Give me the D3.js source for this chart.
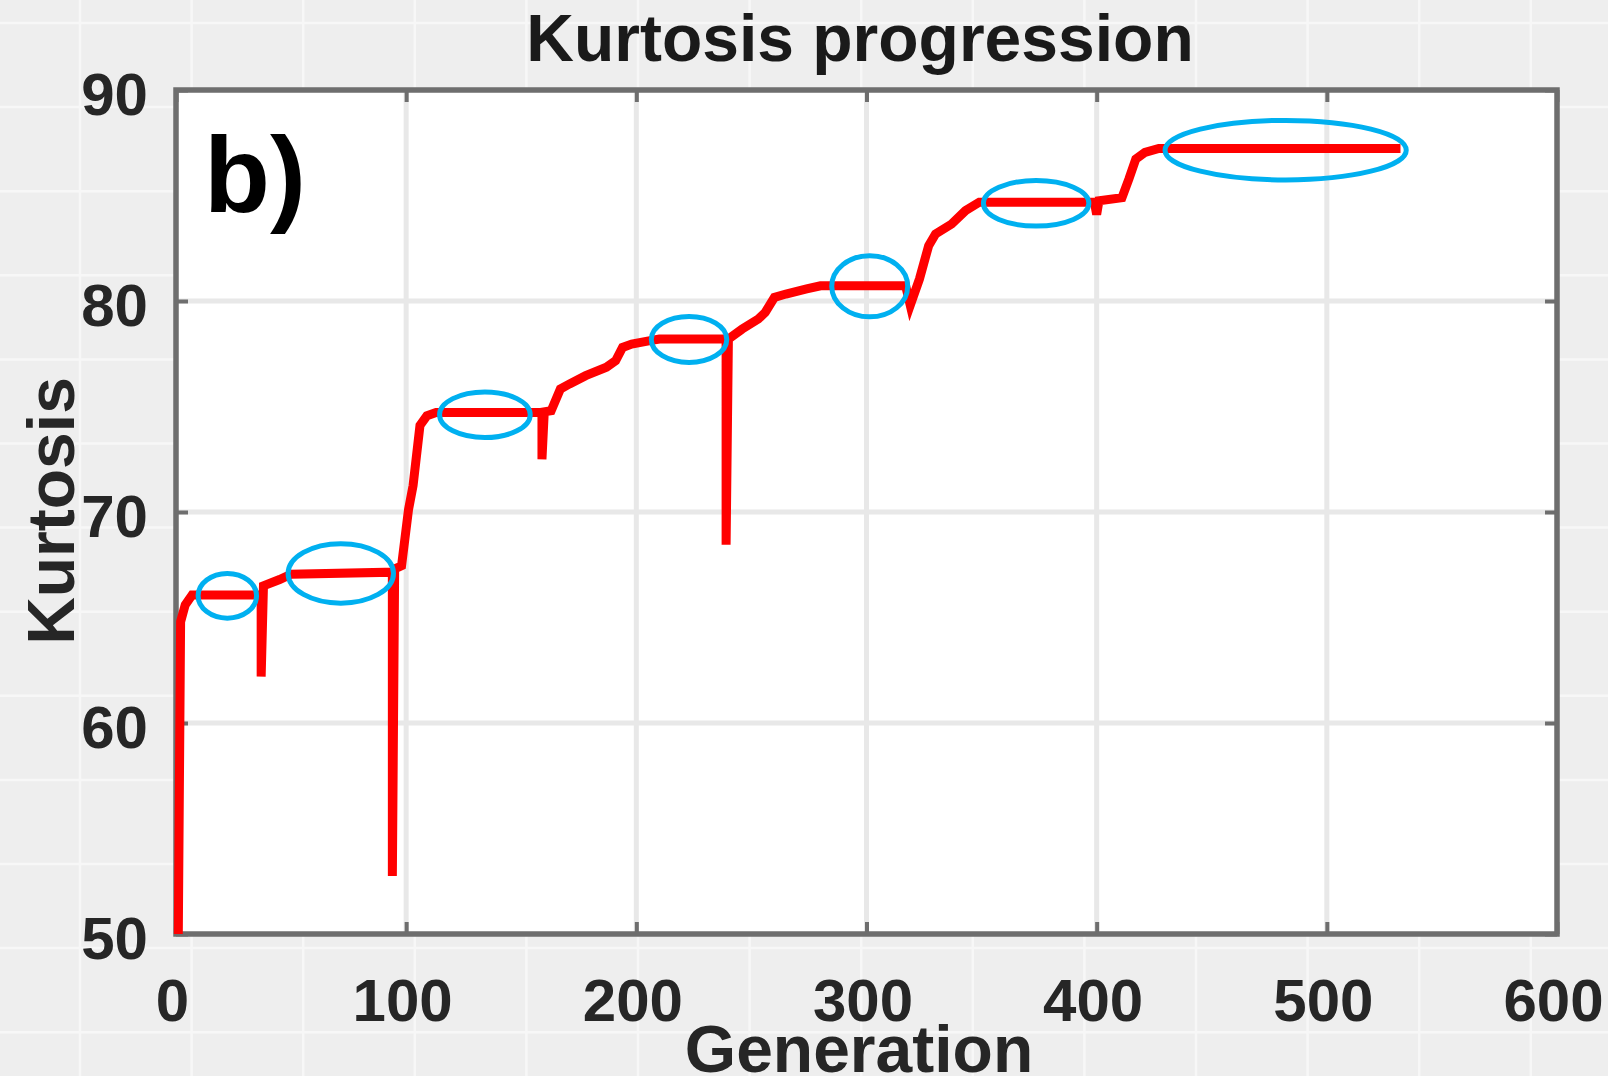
<!DOCTYPE html>
<html>
<head>
<meta charset="utf-8">
<script src="https://cdn.jsdelivr.net/npm/d3@7"></script>
<style>
  html, body { margin: 0; padding: 0; background: #efefef; overflow: hidden; }
  svg { display: block; }
  text { font-family: "Liberation Sans", Arial, Helvetica, sans-serif; }
</style>
</head>
<body>
<svg id="chart"></svg>
<script>
// Best-individual kurtosis per generation (breakpoints of the progression curve)
const generation = [1, 2, 4, 7, 37, 37, 38, 45, 50, 94, 94, 95, 98, 101, 103, 106, 109, 113,
  159, 159, 160, 163, 167, 171, 178, 187, 191, 194, 198, 206, 210, 239, 239, 240,
  246, 253, 256, 260, 265, 274, 280, 317, 319, 323, 327, 330, 337, 343, 349,
  399, 400, 401, 411, 414, 417, 421, 427, 532];
const kurtosis = [50.0, 64.8, 65.6, 66.07, 66.07, 62.2, 66.5, 66.8, 67.05, 67.15, 52.75, 67.3, 67.45, 70.1, 71.25, 74.1, 74.56, 74.72,
  74.72, 72.5, 74.75, 74.8, 75.83, 76.07, 76.46, 76.86, 77.17, 77.8, 77.96, 78.12, 78.2, 78.2, 68.45, 78.2,
  78.67, 79.15, 79.46, 80.17, 80.33, 80.57, 80.72, 80.72, 79.8, 81.04, 82.62, 83.18, 83.65, 84.28, 84.68,
  84.68, 84.1, 84.75, 84.9, 85.78, 86.73, 87.04, 87.23, 87.23];

// Plateaus marked with ellipses: centre (generation, kurtosis) and half-extents
const plateauGen = [22.3, 71.6, 134.2, 222.9, 301.4, 373.7, 482.1];
const plateauKurt = [66.03, 67.09, 74.61, 78.18, 80.70, 84.63, 87.15];
const plateauGenHalf = [12.7, 22.9, 19.7, 16.4, 16.5, 22.9, 52.4];
const plateauKurtHalf = [1.06, 1.41, 1.08, 1.09, 1.45, 1.08, 1.41];

const xTicks = [0, 100, 200, 300, 400, 500, 600];
const yTicks = [50, 60, 70, 80, 90];

const W = 1608, H = 1076;
const plot = { left: 176, right: 1557, top: 90, bottom: 934 };

const svg = d3.select("#chart").attr("width", W).attr("height", H);

// figure background with faint cell pattern
svg.append("rect").attr("width", W).attr("height", H).attr("fill", "#eeeeee");
const bgLines = svg.append("g").attr("stroke", "#f7f7f7").attr("stroke-width", 2.5);
d3.range(23, H, 84.1).forEach(yy =>
  bgLines.append("line").attr("x1", 0).attr("x2", W).attr("y1", yy).attr("y2", yy));
d3.range(80, W, 111.6).forEach(xx =>
  bgLines.append("line").attr("x1", xx).attr("x2", xx).attr("y1", 0).attr("y2", H));

const x = d3.scaleLinear().domain([0, 600]).range([plot.left, plot.right]);
const y = d3.scaleLinear().domain([50, 90]).range([plot.bottom, plot.top]);

// axes area
svg.append("rect")
  .attr("x", plot.left).attr("y", plot.top)
  .attr("width", plot.right - plot.left).attr("height", plot.bottom - plot.top)
  .attr("fill", "#ffffff");

// grid
const grid = svg.append("g").attr("stroke", "#e8e8e8").attr("stroke-width", 5);
xTicks.filter(t => t > 0 && t < 600).forEach(t =>
  grid.append("line").attr("x1", x(t)).attr("x2", x(t)).attr("y1", y(90)).attr("y2", y(50)));
yTicks.filter(t => t > 50 && t < 90).forEach(t =>
  grid.append("line").attr("x1", x(0)).attr("x2", x(600)).attr("y1", y(t)).attr("y2", y(t)));

// axes with inward ticks
const axisColor = "#6e6e6e";
function styleAxis(g) {
  g.select(".domain").remove();
  g.selectAll(".tick line").attr("stroke", axisColor).attr("stroke-width", 4);
}
const xAxisBottom = svg.append("g").attr("transform", `translate(0,${plot.bottom})`)
  .call(d3.axisBottom(x).tickValues(xTicks).tickFormat(d3.format("d")).tickSizeInner(-12).tickSizeOuter(0));
const xAxisTop = svg.append("g").attr("transform", `translate(0,${plot.top})`)
  .call(d3.axisTop(x).tickValues(xTicks).tickFormat("").tickSizeInner(-12).tickSizeOuter(0));
const yAxisLeft = svg.append("g").attr("transform", `translate(${plot.left},0)`)
  .call(d3.axisLeft(y).tickValues(yTicks).tickFormat(d3.format("d")).tickSizeInner(-12).tickSizeOuter(0));
const yAxisRight = svg.append("g").attr("transform", `translate(${plot.right},0)`)
  .call(d3.axisRight(y).tickValues(yTicks).tickFormat("").tickSizeInner(-12).tickSizeOuter(0));
[xAxisBottom, xAxisTop, yAxisLeft, yAxisRight].forEach(styleAxis);

xAxisBottom.selectAll(".tick text")
  .attr("y", 87).attr("dy", null).attr("dx", -4)
  .attr("fill", "#262626").attr("font-size", 60).attr("font-weight", "bold")
  .attr("font-family", "'Liberation Sans', Arial, sans-serif");
yAxisLeft.selectAll(".tick text")
  .attr("x", -28).attr("y", 24).attr("dy", null)
  .attr("fill", "#262626").attr("font-size", 60).attr("font-weight", "bold")
  .attr("font-family", "'Liberation Sans', Arial, sans-serif");

// axes box
svg.append("rect")
  .attr("x", plot.left).attr("y", plot.top)
  .attr("width", plot.right - plot.left).attr("height", plot.bottom - plot.top)
  .attr("fill", "none").attr("stroke", axisColor).attr("stroke-width", 5.5);

// kurtosis progression line
const series = generation.map((g, i) => [g, kurtosis[i]]);
svg.append("path")
  .datum(series)
  .attr("fill", "none")
  .attr("stroke", "#ff0000")
  .attr("stroke-width", 9)
  .attr("stroke-linejoin", "miter")
  .attr("d", d3.line().x(d => x(d[0])).y(d => y(d[1])));

// plateau ellipses
svg.append("g").selectAll("ellipse")
  .data(plateauGen.map((g, i) => ({ g, k: plateauKurt[i], hg: plateauGenHalf[i], hk: plateauKurtHalf[i] })))
  .join("ellipse")
  .attr("cx", d => x(d.g))
  .attr("cy", d => y(d.k))
  .attr("rx", d => x(d.g + d.hg) - x(d.g))
  .attr("ry", d => y(d.k - d.hk) - y(d.k))
  .attr("fill", "none")
  .attr("stroke", "#00b0f0")
  .attr("stroke-width", 5);

// panel tag
svg.append("text")
  .attr("x", 204).attr("y", 212)
  .attr("font-size", 108).attr("font-weight", "bold").attr("fill", "#000")
  .text("b)");

// title and axis labels
svg.append("text")
  .attr("x", 860).attr("y", 61)
  .attr("text-anchor", "middle")
  .attr("font-size", 66).attr("font-weight", "bold").attr("fill", "#1a1a1a")
  .text("Kurtosis progression");

svg.append("text")
  .attr("x", 859).attr("y", 1072)
  .attr("text-anchor", "middle")
  .attr("font-size", 66).attr("font-weight", "bold").attr("fill", "#262626")
  .text("Generation");

svg.append("text")
  .attr("transform", "translate(74,511) rotate(-90)")
  .attr("text-anchor", "middle")
  .attr("font-size", 66).attr("font-weight", "bold").attr("fill", "#262626")
  .text("Kurtosis");
</script>
</body>
</html>
